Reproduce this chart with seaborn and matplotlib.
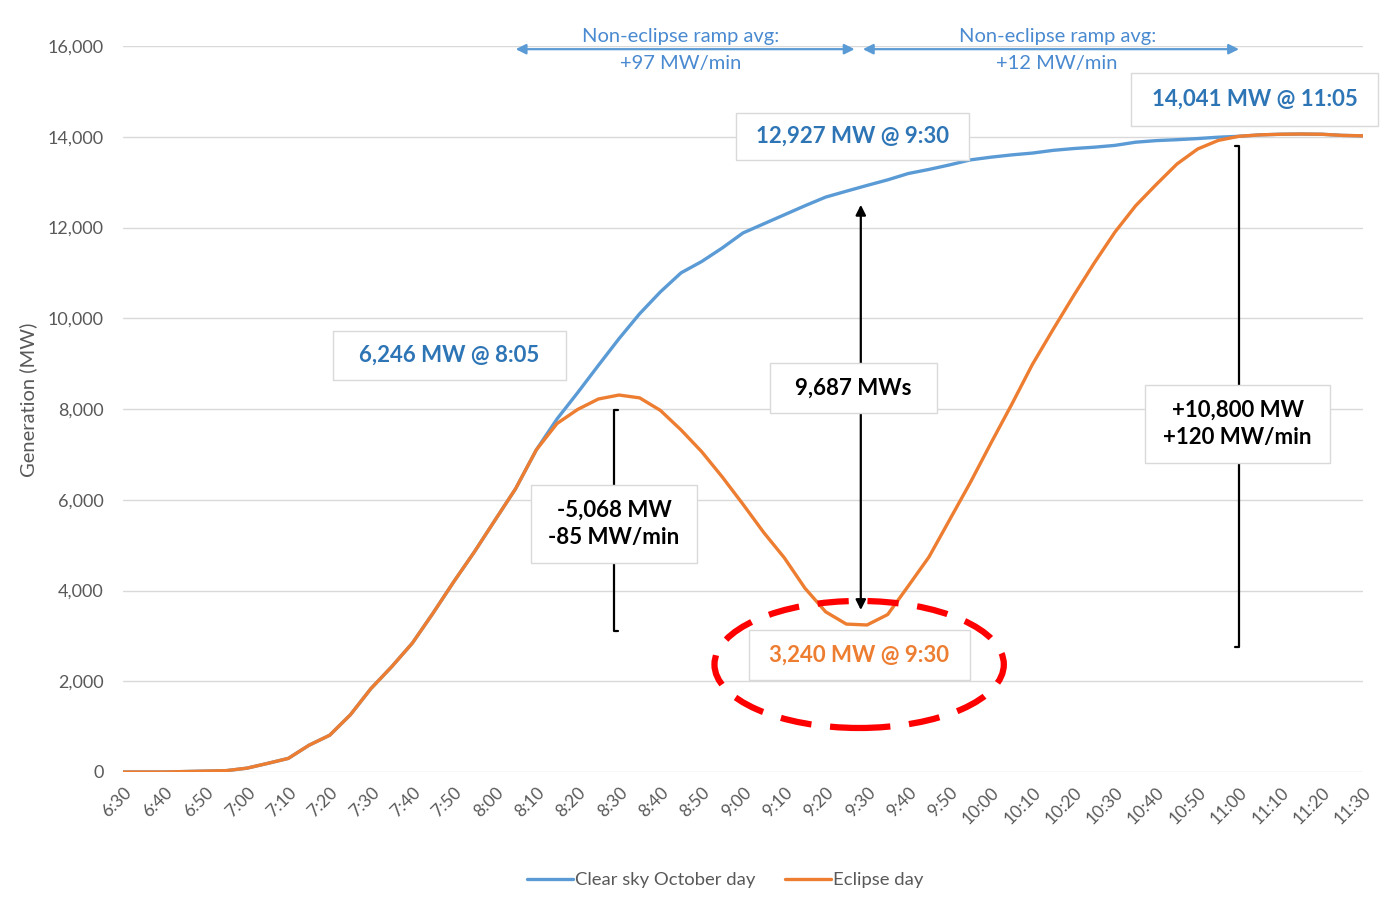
import numpy as np
import pandas as pd
import matplotlib
matplotlib.use("Agg")
import matplotlib.pyplot as plt
from matplotlib.patches import Rectangle, Ellipse
import seaborn as sns

# minutes after 6:30, one reading every 5 minutes up to 11:30
minutes = np.arange(0, 301, 5)

clear_sky = [
    0, 0, 0, 10, 20, 30,                          # 6:30-6:55
    85, 190, 300, 590, 810, 1260,                 # 7:00-7:25
    1840, 2320, 2840, 3500, 4190, 4850,           # 7:30-7:55
    5550, 6246, 7100, 7780, 8360, 8960,           # 8:00-8:25
    9550, 10100, 10580, 11000, 11250, 11550,      # 8:30-8:55
    11880, 12080, 12280, 12480, 12670, 12800,     # 9:00-9:25
    12927, 13050, 13190, 13280, 13380, 13490,     # 9:30-9:55
    13550, 13600, 13640, 13700, 13740, 13770,     # 10:00-10:25
    13810, 13880, 13915, 13935, 13960, 13990,     # 10:30-10:55
    14010, 14041, 14055, 14060, 14055, 14030, 14020,  # 11:00-11:30
]

eclipse = [
    0, 0, 0, 10, 20, 30,
    85, 190, 300, 590, 810, 1260,
    1840, 2320, 2840, 3500, 4190, 4850,
    5550, 6246, 7100, 7680, 7990, 8220,
    8308, 8245, 7970, 7540, 7060, 6500,
    5900, 5280, 4720, 4050, 3530, 3260,
    3240, 3470, 4100, 4740, 5560, 6380,
    7250, 8100, 8980, 9750, 10500, 11220,
    11900, 12480, 12950, 13400, 13730, 13920,
    14010, 14041, 14055, 14060, 14055, 14030, 14020,
]

tick_labels = ["6:30", "6:40", "6:50", "7:00", "7:10", "7:20", "7:30", "7:40",
               "7:50", "8:00", "8:10", "8:20", "8:30", "8:40", "8:50", "9:00",
               "9:10", "9:20", "9:30", "9:40", "9:50", "10:00", "10:10", "10:20",
               "10:30", "10:40", "10:50", "11:00", "11:10", "11:20", "11:30"]

series_names = ["Clear sky October day", "Eclipse day"]

df = pd.DataFrame({"minute": minutes, series_names[0]: clear_sky, series_names[1]: eclipse})
df = df.melt(id_vars="minute", var_name="series", value_name="mw")

BLUE = "#5B9BD5"
ORANGE = "#ED7D31"
BLUE_TXT = "#2E75B6"
GREY = "#595959"

sns.set_style("white")
plt.rcParams["font.family"] = ["Lato", "DejaVu Sans"]

W, H = 1386, 909
fig = plt.figure(figsize=(W / 100, H / 100), dpi=100)
ax = fig.add_axes([123 / W, 1 - 772 / H, (1363 - 123) / W, (772 - 46) / H])

sns.lineplot(data=df, x="minute", y="mw", hue="series",
             palette={series_names[0]: BLUE, series_names[1]: ORANGE},
             linewidth=2.4, ax=ax, legend=True)

ax.set_xlim(0, 300)
ax.set_ylim(0, 16000)
ax.set_yticks(np.arange(0, 16001, 2000))
ax.set_yticklabels([f"{v:,}" for v in range(0, 16001, 2000)], fontsize=13, color=GREY)
ax.set_xticks(np.arange(0, 301, 10))
ax.set_xticklabels(tick_labels, rotation=45, ha="right", va="top",
                   rotation_mode="anchor", fontsize=12.5, color=GREY)
ax.tick_params(axis="x", length=0, pad=9)
ax.tick_params(axis="y", length=0, pad=14)
ax.grid(axis="y", color="#D9D9D9", linewidth=1)
for s in ax.spines.values():
    s.set_visible(False)
ax.set_xlabel("")
ax.set_ylabel("")
fig.text(28 / W, 1 - 400 / H, "Generation (MW)", rotation=90, ha="center",
         va="center", fontsize=14.5, color=GREY)

# legend below the plot
handles, labels = ax.get_legend_handles_labels()
ax.get_legend().remove()
fig.legend(handles, labels, loc="center", bbox_to_anchor=(725 / W, 1 - 880 / H),
           ncol=2, frameon=False, fontsize=13.3, labelcolor=GREY,
           handlelength=2.5, handletextpad=0.1, columnspacing=1.6)

# top ramp arrows
for x0, x1, tx, rate in [(95, 177, 135, "+97 MW/min"), (179, 270, 226, "+12 MW/min")]:
    ax.annotate("", xy=(x0, 15930), xytext=(x1, 15930), annotation_clip=False,
                arrowprops=dict(arrowstyle="<|-|>,head_length=0.6,head_width=0.3",
                                color=BLUE, lw=1.6, shrinkA=0, shrinkB=0))
    ax.text(tx, 16200, "Non-eclipse ramp avg:", ha="center", va="center",
            fontsize=14.5, color="#4A8AD0", clip_on=False)
    ax.text(tx, 15620, rate, ha="center", va="center",
            fontsize=14.5, color="#4A8AD0", clip_on=False)

# brackets
ax.plot([119.8, 118.8, 118.8, 119.8], [7980, 7980, 3110, 3110], color="black", lw=1.6)
ax.plot([269, 270, 270, 269], [13800, 13800, 2750, 2750], color="black", lw=1.6)

# gap arrow at 9:30
ax.annotate("", xy=(178.5, 12500), xytext=(178.5, 3570),
            arrowprops=dict(arrowstyle="<|-|>,head_length=0.6,head_width=0.3",
                            color="black", lw=1.6, shrinkA=0, shrinkB=0))

# red dashed ellipse around the eclipse minimum
ax.add_patch(Ellipse((178.1, 2370), 70, 2800, fill=False, edgecolor="#FF0000",
                     lw=4.5, linestyle=(0, (5, 3)), zorder=6, clip_on=False))


def box(x0, y0, x1, y1, text, color):
    fig.patches.append(Rectangle((x0 / W, 1 - y1 / H), (x1 - x0) / W, (y1 - y0) / H,
                                 transform=fig.transFigure, facecolor="white",
                                 edgecolor="#D9D9D9", lw=1, zorder=5))
    fig.text((x0 + x1) / 2 / W, 1 - (y0 + y1) / 2 / H, text, ha="center", va="center",
             fontsize=16, fontweight="bold", color=color, linespacing=1.35, zorder=6)


box(333, 331, 566, 380, "6,246 MW @ 8:05", BLUE_TXT)
box(736, 113, 969, 160, "12,927 MW @ 9:30", BLUE_TXT)
box(1131, 73, 1378, 126, "14,041 MW @ 11:05", BLUE_TXT)
box(770, 363, 937, 413, "9,687 MWs", "black")
box(531, 485, 697, 563, "-5,068 MW\n-85 MW/min", "black")
box(1145, 385, 1330, 463, "+10,800 MW\n+120 MW/min", "black")
box(749, 630, 970, 680, "3,240 MW @ 9:30", ORANGE)

plt.savefig("out.png", dpi=100)
